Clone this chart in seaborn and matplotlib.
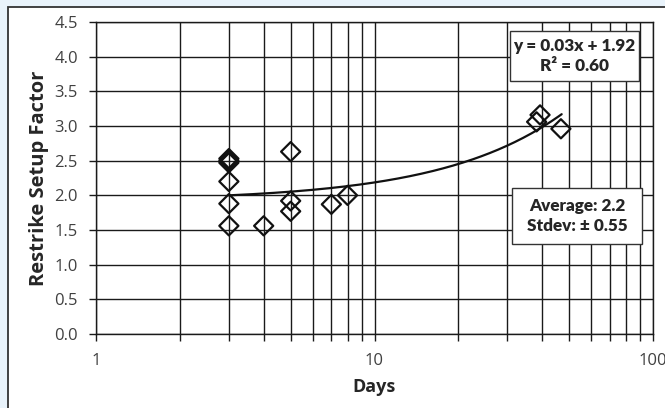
import numpy as np
import pandas as pd
import matplotlib
matplotlib.use("Agg")
import matplotlib.pyplot as plt
from matplotlib.patches import Rectangle
from matplotlib.ticker import LogLocator, NullFormatter, FixedLocator
import seaborn as sns

# data
days = [3, 3, 3, 3, 3, 3, 4, 5, 5, 5, 7, 8, 38.2, 39.3, 46.7]
setup_factor = [2.53, 2.50, 2.47, 2.20, 1.88, 1.56, 1.56, 2.63, 1.92, 1.77, 1.87, 2.00, 3.06, 3.16, 2.96]

# trendline as drawn (linear in x, shown on log axis)
trend_slope = 0.0266
trend_intercept = 1.92
trend_range = (3, 47)

y_ticks = [0.0, 0.5, 1.0, 1.5, 2.0, 2.5, 3.0, 3.5, 4.0, 4.5]
eq_text = "y = 0.03x + 1.92\nR² = 0.60"
stat_text = "Average: 2.2\nStdev: ± 0.55"

df = pd.DataFrame({"Days": days, "Restrike Setup Factor": setup_factor})

sns.set_style("white")
plt.rcParams['font.family'] = ['Open Sans', 'DejaVu Sans']

W, H = 665, 408
fig = plt.figure(figsize=(W / 100, H / 100), dpi=100)
fig.patch.set_facecolor("#e9f3fb")
# white panel with dark border
fig.patches.append(Rectangle((8 / W, -0.05), 1.1, 1 - 7 / H + 0.05,
                             transform=fig.transFigure, facecolor="white",
                             edgecolor="#333333", linewidth=1.3, zorder=-10))

ax = fig.add_axes([96 / W, 1 - 334 / H, (653 - 96) / W, (334 - 22) / H])
ax.set_zorder(1)
ax.set_facecolor("white")
ax.set_xscale("log")
ax.set_xlim(1, 100)
ax.set_ylim(0, 4.5)

ax.xaxis.set_major_locator(FixedLocator([1, 10, 100]))
ax.xaxis.set_minor_locator(LogLocator(base=10, subs=np.arange(2, 10)))
ax.xaxis.set_minor_formatter(NullFormatter())
ax.set_xticklabels(["1", "10", "100"])
ax.set_yticks(y_ticks)
ax.set_yticklabels([f"{v:.1f}" for v in y_ticks])

ax.grid(True, which="both", axis="x", color="#1a1a1a", linewidth=1.0)
ax.grid(True, which="major", axis="y", color="#1a1a1a", linewidth=1.0)
ax.set_axisbelow(True)
for s in ax.spines.values():
    s.set_color("#1a1a1a")
    s.set_linewidth(1.0)

ax.tick_params(axis="both", which="both", direction="out", color="#1a1a1a",
               labelcolor="#404040", labelsize=12)
ax.tick_params(axis="y", which="major", length=5, width=1, pad=8)
ax.tick_params(axis="x", which="major", length=5, width=1, pad=9)
ax.tick_params(axis="x", which="minor", length=5, width=1)
ax.tick_params(left=True, bottom=True)
ax.tick_params(axis="x", which="minor", bottom=True)

tx = np.geomspace(trend_range[0], trend_range[1], 200)
ax.plot(tx, trend_slope * tx + trend_intercept, color="#111111", linewidth=1.6, zorder=3)

sns.scatterplot(data=df, x="Days", y="Restrike Setup Factor", ax=ax, marker="D",
                s=95, facecolor="none", edgecolor="#111111", linewidth=1.6, zorder=4)

ax.set_xlabel("Days", fontsize=13, fontweight="bold", color="#262626", labelpad=6)
ax.set_ylabel("Restrike Setup Factor", fontsize=14.5, fontweight="bold", color="#262626", labelpad=4)


def text_box(x0, y0, x1, y1, txt):
    # box given in reference pixel coords
    fx0, fx1 = x0 / W, x1 / W
    fy0, fy1 = 1 - y1 / H, 1 - y0 / H
    fig.patches.append(Rectangle((fx0, fy0), fx1 - fx0, fy1 - fy0, transform=fig.transFigure,
                                 facecolor="white", edgecolor="#333333", linewidth=1.0, zorder=5))
    fig.text((fx0 + fx1) / 2, (fy0 + fy1) / 2, txt, ha="center", va="center",
             fontsize=12.3, fontweight="heavy", color="#262626", family=["Lato", "DejaVu Sans"],
             linespacing=1.25, zorder=6)


text_box(510, 31, 639, 81, eq_text)
text_box(512, 188, 642, 244, stat_text)

fig.savefig("out.png", dpi=100)
